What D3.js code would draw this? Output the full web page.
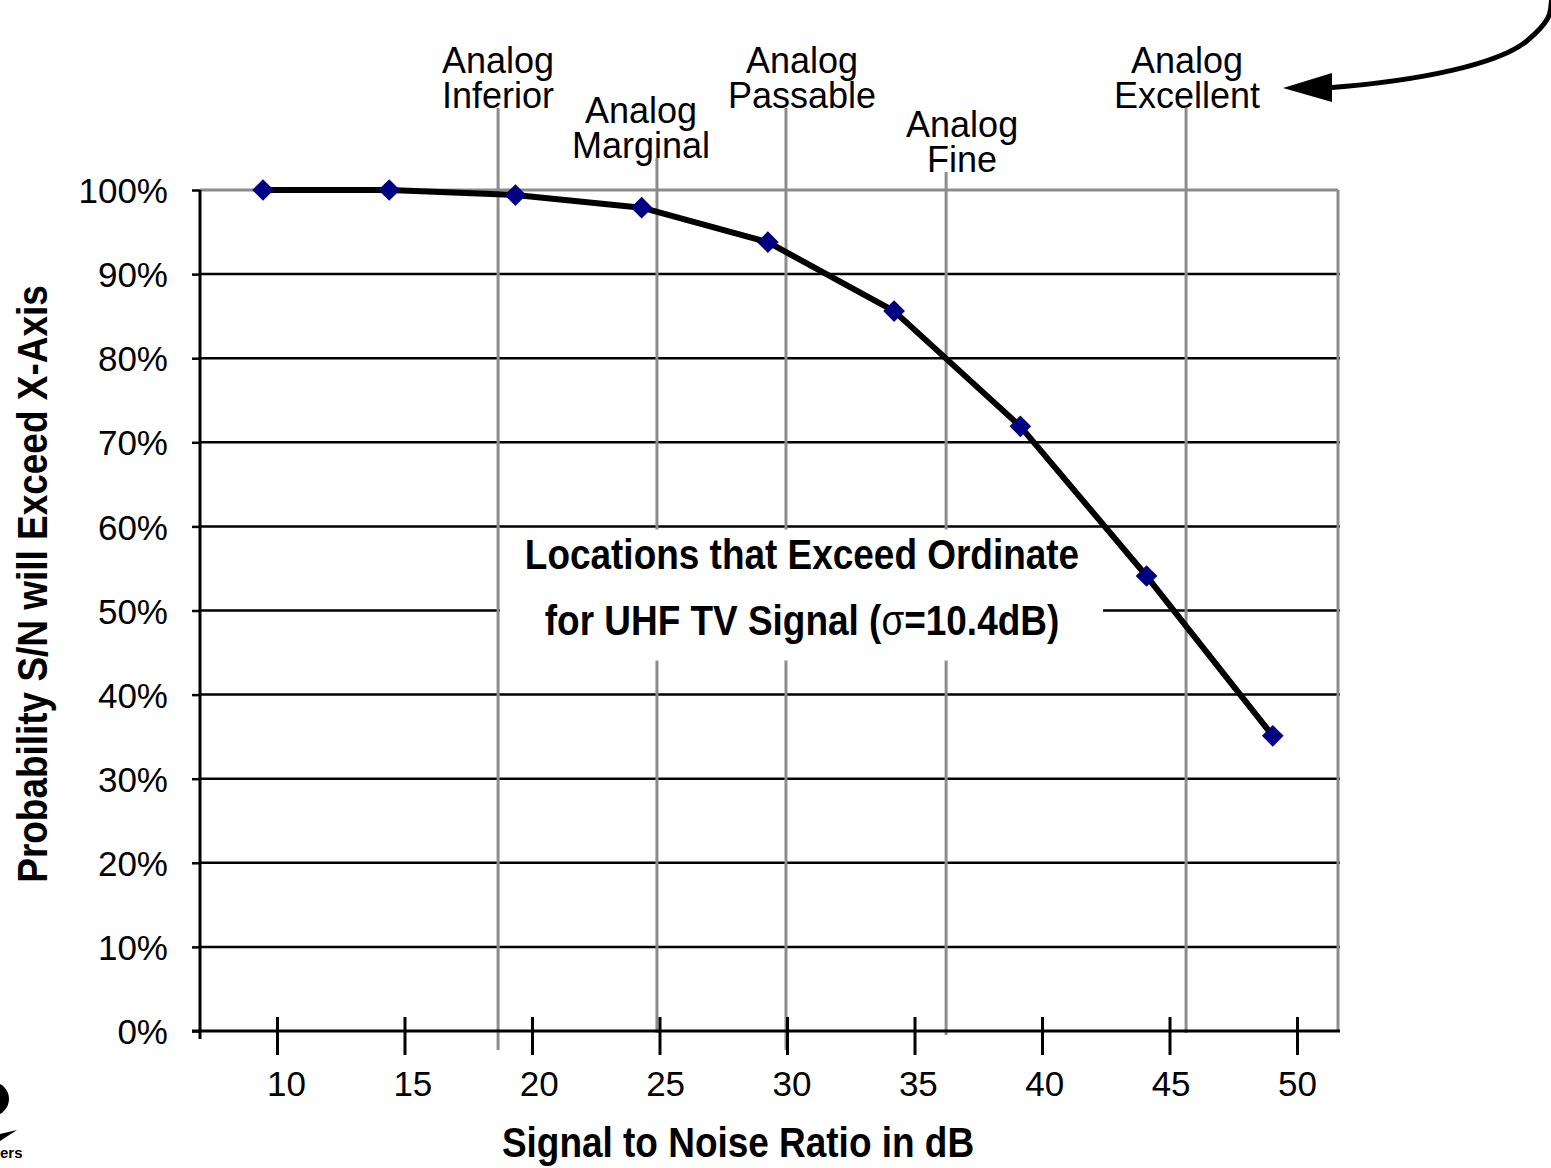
<!DOCTYPE html>
<html>
<head>
<meta charset="utf-8">
<script src="https://cdn.jsdelivr.net/npm/d3@7"></script>
<style>
  html, body { margin: 0; padding: 0; background: #fff; }
  svg { display: block; }
  text { font-family: "Liberation Sans", Arial, Helvetica, sans-serif; }
</style>
</head>
<body>
<svg id="chart" width="1551" height="1168"></svg>
<script>
// ---------------- data ----------------
const snrDb = [9.45, 14.4, 19.35, 24.3, 29.25, 34.2, 39.15, 44.1, 49.05];
const probExceed = [1.000, 1.000, 0.994, 0.979, 0.938, 0.856, 0.719, 0.541, 0.351];
const xTickValues = [10, 15, 20, 25, 30, 35, 40, 45, 50];
const yTickValues = [0, 0.1, 0.2, 0.3, 0.4, 0.5, 0.6, 0.7, 0.8, 0.9, 1.0];
const gradeNames = ["Inferior", "Marginal", "Passable", "Fine", "Excellent"];
const gradeDb = [18.67, 24.9, 29.96, 36.24, 45.65];
const boxLines = ["Locations that Exceed Ordinate", "for UHF TV Signal ("];
const xTitle = "Signal to Noise Ratio in dB";
const yTitle = "Probability S/N will Exceed X-Axis";

// ---------------- layout ----------------
const svg = d3.select("#chart");
const x = d3.scaleLinear().domain([10, 50]).range([277, 1297]);
const y = d3.scaleLinear().domain([0, 1]).range([1031, 190]);
const plotLeft = 200, plotRight = 1340;
const gray = "#8c8c8c";
const labelDrop = { Inferior: 0, Marginal: 50, Passable: 0, Fine: 64, Excellent: 0 };
const labelShift = { Inferior: 0, Marginal: -16, Passable: 16, Fine: 16, Excellent: 1 };
const lineBottomExtra = { Inferior: 19, Marginal: 2, Passable: 19, Fine: 4, Excellent: 2 };

// horizontal gridlines (black)
svg.append("g").selectAll("line")
  .data(yTickValues.filter(v => v > 0 && v < 1))
  .join("line")
  .attr("x1", plotLeft).attr("x2", plotRight)
  .attr("y1", d => y(d)).attr("y2", d => y(d))
  .attr("stroke", "#000").attr("stroke-width", 2.5);

// plot border top and right (gray)
svg.append("line").attr("x1", plotLeft).attr("x2", plotRight - 2)
  .attr("y1", y(1)).attr("y2", y(1)).attr("stroke", gray).attr("stroke-width", 3);
svg.append("line").attr("x1", plotRight - 2).attr("x2", plotRight - 2)
  .attr("y1", y(1)).attr("y2", y(0)).attr("stroke", gray).attr("stroke-width", 3);

// grade threshold lines (gray verticals)
const grades = gradeNames.map((n, i) => ({ name: n, db: gradeDb[i] }));
svg.append("g").selectAll("line")
  .data(grades)
  .join("line")
  .attr("x1", d => x(d.db)).attr("x2", d => x(d.db))
  .attr("y1", d => 108 + labelDrop[d.name])
  .attr("y2", d => y(0) + lineBottomExtra[d.name])
  .attr("stroke", gray).attr("stroke-width", 3);

// grade labels
const gl = svg.append("g").selectAll("text")
  .data(grades)
  .join("text")
  .attr("text-anchor", "middle")
  .attr("font-size", 36)
  .attr("fill", "#000");
gl.append("tspan").attr("x", d => x(d.db) + labelShift[d.name]).attr("y", d => 73 + labelDrop[d.name]).text("Analog");
gl.append("tspan").attr("x", d => x(d.db) + labelShift[d.name]).attr("y", d => 108 + labelDrop[d.name]).text(d => d.name);

// white annotation box
svg.append("rect").attr("x", 500).attr("y", 529.5).attr("width", 603).attr("height", 131)
  .attr("fill", "#fff");

function narrowText(parent, tx, ty, rot, size) {
  return parent.append("g")
    .attr("transform", `translate(${tx},${ty}) rotate(${rot}) scale(0.88,1)`)
    .append("text")
    .attr("text-anchor", "middle")
    .attr("font-weight", "bold")
    .attr("font-size", size)
    .attr("fill", "#000");
}
narrowText(svg, 802, 569, 0, 42).text(boxLines[0]);
const t2 = narrowText(svg, 802, 635, 0, 42);
t2.append("tspan").text(boxLines[1]);
t2.append("tspan").attr("font-weight", "normal").text("σ");
t2.append("tspan").text("=10.4dB)");

// x axis
const xAxis = svg.append("g").attr("transform", `translate(0,${y(0)})`)
  .call(d3.axisBottom(x).tickValues(xTickValues).tickSize(24).tickPadding(0).tickFormat(d3.format("d")));
xAxis.select(".domain").attr("d", `M${plotLeft - 8},0H${plotRight}`).attr("stroke", "#000").attr("stroke-width", 3);
xAxis.selectAll(".tick line").attr("y1", -14).attr("y2", 24).attr("stroke", "#000").attr("stroke-width", 3);
xAxis.selectAll(".tick text").attr("x", d => 9 - 9 * (d - 10) / 40).attr("y", 65).attr("dy", null)
  .attr("font-size", 35).attr("fill", "#000")
  .style("font-family", '"Liberation Sans", Arial, sans-serif');

// y axis
const yAxis = svg.append("g").attr("transform", `translate(${plotLeft},0)`)
  .call(d3.axisLeft(y).tickValues(yTickValues).tickSize(8).tickPadding(24).tickFormat(d3.format(".0%")));
yAxis.select(".domain").attr("d", `M0,${y(1)}V${y(0) + 8}`).attr("stroke", "#000").attr("stroke-width", 3);
yAxis.selectAll(".tick line").attr("stroke", "#000").attr("stroke-width", 2.5);
yAxis.selectAll(".tick text").attr("font-size", 35).attr("fill", "#000").attr("dy", "0.36em")
  .style("font-family", '"Liberation Sans", Arial, sans-serif');

// data line
const pts = snrDb.map((v, i) => [v, probExceed[i]]);
svg.append("path").datum(pts)
  .attr("d", d3.line().x(d => x(d[0])).y(d => y(d[1])))
  .attr("fill", "none").attr("stroke", "#000").attr("stroke-width", 6)
  .attr("stroke-linejoin", "round");
svg.append("g").selectAll("path")
  .data(pts)
  .join("path")
  .attr("transform", d => `translate(${x(d[0])},${y(d[1])})`)
  .attr("d", d3.symbol().type(d3.symbolDiamond2).size(300))
  .attr("fill", "#000080");

// axis titles
narrowText(svg, 738, 1157, 0, 42).text(xTitle);
narrowText(svg, 47, 584, -90, 42).text(yTitle);

// arrow pointing to "Analog Excellent"
svg.append("path")
  .attr("d", "M1326,88 C1420,81 1500,64 1528,40 S1549,10 1552,-2")
  .attr("fill", "none").attr("stroke", "#000").attr("stroke-width", 5);
svg.append("path")
  .attr("d", "M1283,88 L1332,73 L1332,102 Z")
  .attr("fill", "#000");

// partial logo at bottom-left
svg.append("circle").attr("cx", -8).attr("cy", 1099).attr("r", 17).attr("fill", "#000");
svg.append("path").attr("d", "M0,1134 L17,1130 L0,1141 Z").attr("fill", "#000");
svg.append("text").attr("x", 0).attr("y", 1158).attr("font-size", 15).attr("font-weight", "bold").text("ers");
</script>
</body>
</html>
